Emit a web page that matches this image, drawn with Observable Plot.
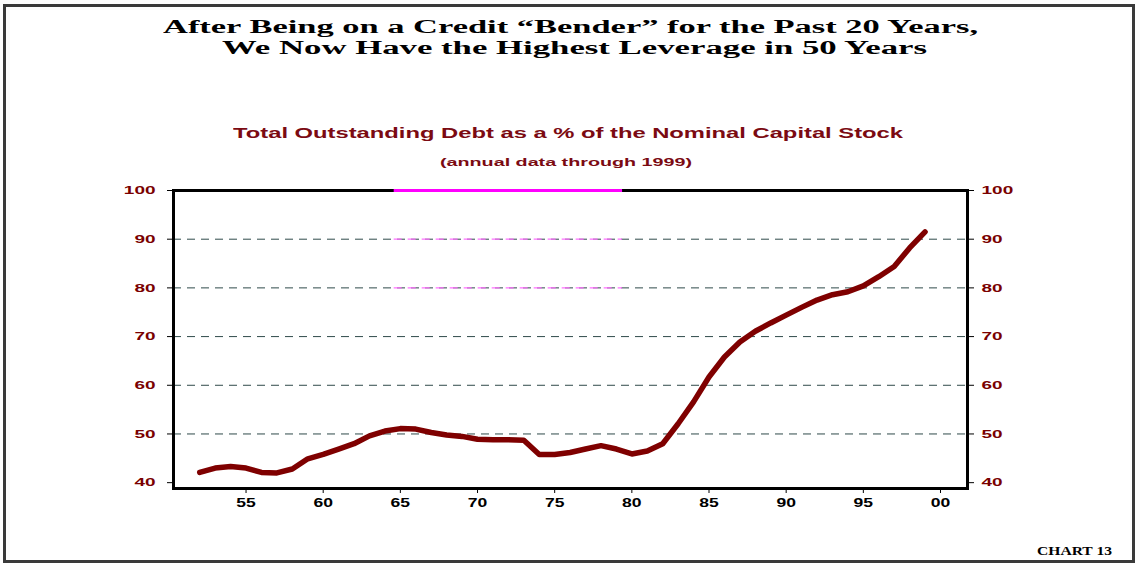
<!DOCTYPE html>
<html>
<head>
<meta charset="utf-8">
<script src="https://cdn.jsdelivr.net/npm/d3@7"></script>
<script src="https://cdn.jsdelivr.net/npm/@observablehq/plot@0.6"></script>
<style>
  html, body { margin: 0; padding: 0; background: #fff; }
  #page { position: relative; width: 1135px; height: 565px; overflow: hidden; background: #fff; }
  #border { position: absolute; left: 3px; top: 4px; width: 1132px; height: 559px; border: 3px solid #3a3a3a; box-sizing: border-box; }
  .t { position: absolute; white-space: nowrap; transform-origin: 0 0; line-height: 1; }
  .serif { font-family: "Liberation Serif", "Times New Roman", serif; font-weight: bold; color: #000; }
  .sans { font-family: "Liberation Sans", Arial, sans-serif; font-weight: bold; color: #7b0a12; }
  #chart { position: absolute; left: 0; top: 175px; }
</style>
</head>
<body>
<div id="page">
  <div id="border"></div>
  <div class="t serif" data-w="815" data-cx="570" style="top:17px;font-size:18.5px;line-height:21px;">After Being on a Credit “Bender” for the Past 20 Years,</div>
  <div class="t serif" data-w="705" data-cx="574" style="top:38px;font-size:18.5px;line-height:21px;">We Now Have the Highest Leverage in 50 Years</div>
  <div class="t sans" data-w="670" style="left:233px;top:125px;font-size:15px;">Total Outstanding Debt as a % of the Nominal Capital Stock</div>
  <div class="t sans" data-w="252" style="left:440px;top:158px;font-size:10px;">(annual data through 1999)</div>
  <div id="chart"></div>
  <div class="t serif" data-w="75" style="left:1037px;top:545px;font-size:12px;">CHART 13</div>
</div>
<script>
// ---- data ----
const years = [1952,1953,1954,1955,1956,1957,1958,1959,1960,1961,1962,1963,1964,1965,1966,1967,1968,1969,1970,1971,1972,1973,1974,1975,1976,1977,1978,1979,1980,1981,1982,1983,1984,1985,1986,1987,1988,1989,1990,1991,1992,1993,1994,1995,1996,1997,1998,1999];
const debtPct = [42.1,43.0,43.3,43.0,42.1,42.0,42.8,44.9,45.8,46.9,48.0,49.6,50.6,51.1,51.0,50.3,49.8,49.5,48.9,48.8,48.8,48.7,45.8,45.8,46.2,46.9,47.6,46.9,45.9,46.5,48.0,52.1,56.6,61.7,65.8,68.9,71.1,72.8,74.4,76.0,77.5,78.6,79.2,80.4,82.3,84.4,88.2,91.5];
const yTicks = [40,50,60,70,80,90,100];
const gridValues = [50,60,70,80,90];
const xTicks = [1955,1960,1965,1970,1975,1980,1985,1990,1995,2000];
const xTickLabels = ["55","60","65","70","75","80","85","90","95","00"];
const highlightGrid = [80,90];
const highlightFrom = 1964.6;
const highlightTo = 1979.4;

const series = years.map((y, i) => ({year: y, value: debtPct[i]}));
const hiGrid = highlightGrid.map(v => ({y: v, x1: highlightFrom, x2: highlightTo}));
const hiTop = [{y: 100, x1: highlightFrom, x2: highlightTo}];

const labelFont = "Liberation Sans, Arial, sans-serif";

const chart = Plot.plot({
  width: 1135,
  height: 345,
  marginLeft: 173,
  marginRight: 168,
  marginTop: 15,
  marginBottom: 32,
  style: {background: "transparent", overflow: "visible"},
  x: {domain: [1950.3, 2001.75]},
  y: {domain: [38.8, 100]},
  marks: [
    Plot.ruleY(gridValues, {stroke: "#2f4a4a", strokeWidth: 1, strokeDasharray: "8,6"}),
    Plot.ruleY(hiGrid, {y: "y", x1: "x1", x2: "x2", stroke: "#ff70ff", strokeWidth: 1.2, strokeDasharray: "8,6"}),
    Plot.line(series, {x: "year", y: "value", stroke: "#7f0000", strokeWidth: 5.5, strokeLinejoin: "round", strokeLinecap: "round"}),
    Plot.frame({stroke: "#000", strokeWidth: 3}),
    Plot.ruleY(hiTop, {y: "y", x1: "x1", x2: "x2", stroke: "#ff00ff", strokeWidth: 3}),
    Plot.axisY(yTicks, {anchor: "left", label: null, tickSize: 6, tickPadding: 12, stroke: "#000", fill: "#7a0000", fontSize: 11.5, fontWeight: "bold", fontFamily: labelFont}),
    Plot.axisY(yTicks, {anchor: "right", label: null, tickSize: 6, tickPadding: 8, stroke: "#000", fill: "#7a0000", fontSize: 11.5, fontWeight: "bold", fontFamily: labelFont}),
    Plot.axisX(xTicks, {anchor: "bottom", label: null, tickSize: 5, tickPadding: 4, stroke: "#000", fill: "#000", fontSize: 13, fontWeight: "bold", fontFamily: labelFont,
      tickFormat: d => xTickLabels[xTicks.indexOf(d)]})
  ]
});
document.getElementById("chart").appendChild(chart);

// horizontally stretch tick labels like the original
function stretchSvg(sel, factor) {
  chart.querySelectorAll(sel).forEach(t => {
    const w = t.getComputedTextLength();
    if (w > 0) {
      t.setAttribute("textLength", (w * factor).toFixed(1));
      t.setAttribute("lengthAdjust", "spacingAndGlyphs");
    }
  });
}
stretchSvg('[aria-label="y-axis tick label"] text', 1.65);
stretchSvg('[aria-label="x-axis tick label"] text', 1.35);

// horizontally stretch HTML titles to their target widths
document.querySelectorAll(".t[data-w]").forEach(el => {
  const w = el.getBoundingClientRect().width;
  const target = +el.dataset.w;
  if (el.dataset.cx) el.style.left = (+el.dataset.cx - target / 2) + "px";
  if (w > 0) el.style.transform = `scaleX(${target / w})`;
});
</script>
</body>
</html>
